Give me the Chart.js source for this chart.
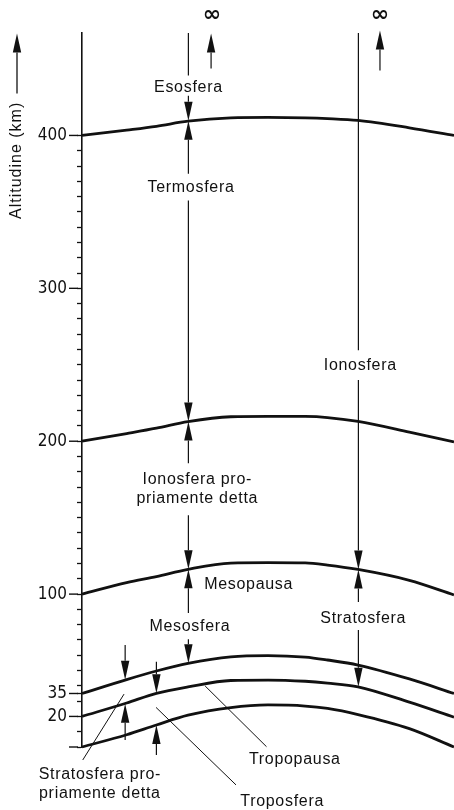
<!DOCTYPE html>
<html lang="it">
<head>
<meta charset="UTF-8">
<title>Strati dell'atmosfera</title>
<script src="https://cdn.jsdelivr.net/npm/chart.js"></script>
<style>
  html, body { margin: 0; padding: 0; background: #fff; }
  #wrap { width: 454px; height: 810px; }
</style>
</head>
<body>
<div id="wrap"><canvas id="atmo" width="454" height="810"></canvas></div>
<script>
// horizontal position across the diagram (0 = altitude axis, 100 = right edge)
const xPos = [0, 12, 20, 28.5, 40, 50, 60, 66, 74.2, 88, 100];

// layer boundaries: altitude (km) at each xPos
const alt400 = [400, 403.5, 406, 409.3, 411.5, 411.8, 411.5, 411, 409.8, 405, 400];
const alt200 = [200, 205, 208.5, 212.8, 216, 216.3, 216.2, 215.5, 213, 206, 199.5];
const alt100 = [100, 107.5, 111.5, 116.2, 120.3, 120.6, 120.4, 119, 116.1, 109, 99.5];
const alt35  = [35, 44.1, 49.7, 54.7, 59, 59.8, 58.8, 56.9, 53.6, 44.5, 35];
const alt20  = [20, 28.8, 35.1, 39.3, 43.5, 43.8, 43, 41.8, 39.4, 29.3, 19.5];
const alt0   = [0, 8, 14.4, 20.8, 25.8, 27.5, 26.8, 25.2, 21.2, 12, 0];
const boundaries = [alt400, alt200, alt100, alt35, alt20, alt0];

// y axis ticks
const tickValues = [0, 10, 20, 30, 35, 40, 50, 60, 70, 80, 90, 100, 110, 120, 130, 140, 150,
  160, 170, 180, 190, 200, 210, 220, 230, 240, 250, 260, 270, 280, 290, 300, 310, 320,
  330, 340, 350, 360, 370, 380, 390, 400];
const tickLabels = [20, 35, 100, 200, 300, 400];
const longTicks = [0, 20, 35, 100, 200, 300, 400];

// plain vertical lines [x, from km, to km]
const stems = [[28.6, 467, 439.2], [74.3, 467, 259.5]];
// arrows [x, from km, to km], head at the "to" end
const arrows = [
  [28.6, 426, 409.6], [28.6, 375, 409.6], [28.6, 357.5, 212.9], [28.6, 185.6, 212.9],
  [28.6, 151.6, 116.3], [28.6, 87.6, 116.3], [28.6, 70.5, 54.7],
  [74.3, 240, 116.1], [74.3, 94.8, 116.1], [74.3, 76.5, 39.4],
  [11.6, 66.7, 44], [11.6, 4.6, 28.3], [20, 55.8, 35.1], [20, -5.2, 14.4],
  [34.7, 443.8, 466.7], [80.1, 442.5, 468.6]
];
// leader lines [x1, km1, x2, km2]
const leaders = [[11.3, 34.6, 0.2, -8.5], [19.9, 25.9, 41.4, -24.8], [33.1, 39.9, 49.6, 0.2]];
// labels [text, x, km]
const labels = [
  ['Esosfera', 28.6, 431.4], ['Termosfera', 29.3, 366],
  ['Ionosfera pro-', 31, 175.2], ['priamente detta', 31, 162.7],
  ['Mesopausa', 44.8, 105.9], ['Mesosfera', 29, 78.6],
  ['Ionosfera', 74.8, 249.7], ['Stratosfera', 75.6, 84.3],
  ['Stratosfera pro-', 4.8, -18.3], ['priamente detta', 4.8, -30.7],
  ['Tropopausa', 57.2, -8.5], ['Troposfera', 53.8, -35.7]
];
const infinity = [[34.9, 478.4], [80.1, 478.4]];
const axisTitle = 'Altitudine (km)';

const INK = '#111';

function drawArrow(ctx, x, y1, y2) {
  const dir = y2 > y1 ? 1 : -1;
  const len = 19, half = 4.2;
  ctx.beginPath();
  ctx.moveTo(x, y1);
  ctx.lineTo(x, y2 - dir * len);
  ctx.stroke();
  ctx.beginPath();
  ctx.moveTo(x, y2);
  ctx.lineTo(x - half, y2 - dir * len);
  ctx.lineTo(x + half, y2 - dir * len);
  ctx.closePath();
  ctx.fill();
}

const decor = {
  id: 'decor',
  afterDraw(chart) {
    const ctx = chart.ctx;
    const sx = chart.scales.x, sy = chart.scales.y;
    const X = v => sx.getPixelForValue(v);
    const Y = v => sy.getPixelForValue(v);
    const left = chart.chartArea.left;
    ctx.save();
    ctx.strokeStyle = INK;
    ctx.fillStyle = INK;

    // longer ticks at labelled values
    ctx.lineWidth = 1.4;
    longTicks.forEach(v => {
      ctx.beginPath();
      ctx.moveTo(left - 13, Y(v));
      ctx.lineTo(left - 4, Y(v));
      ctx.stroke();
    });

    ctx.lineWidth = 1.2;
    stems.forEach(([x, a, b]) => {
      ctx.beginPath();
      ctx.moveTo(X(x), Y(a));
      ctx.lineTo(X(x), Y(b));
      ctx.stroke();
    });
    arrows.forEach(([x, a, b]) => drawArrow(ctx, X(x), Y(a), Y(b)));

    ctx.lineWidth = 1;
    leaders.forEach(([x1, a, x2, b]) => {
      ctx.beginPath();
      ctx.moveTo(X(x1), Y(a));
      ctx.lineTo(X(x2), Y(b));
      ctx.stroke();
    });

    ctx.textAlign = 'center';
    ctx.textBaseline = 'middle';
    ctx.font = '16px "Liberation Sans", Arial, sans-serif';
    ctx.letterSpacing = '0.7px';
    labels.forEach(([t, x, a]) => ctx.fillText(t, X(x), Y(a)));

    ctx.letterSpacing = '0px';
    ctx.font = 'bold 22px "DejaVu Sans", sans-serif';
    infinity.forEach(([x, a]) => ctx.fillText('\u221E', X(x), Y(a)));

    // axis title with upward arrow
    ctx.save();
    ctx.translate(17, Y(383.7));
    ctx.rotate(-Math.PI / 2);
    ctx.font = '16px "Liberation Sans", Arial, sans-serif';
    ctx.letterSpacing = '1px';
    ctx.fillText(axisTitle, 0, 0);
    ctx.restore();
    ctx.lineWidth = 1.3;
    drawArrow(ctx, 17, Y(427.5), Y(466.7));

    ctx.restore();
  }
};

new Chart(document.getElementById('atmo'), {
  type: 'line',
  data: {
    datasets: boundaries.map(b => ({
      data: xPos.map((x, i) => ({ x: x, y: b[i] })),
      borderColor: INK,
      borderWidth: 2.8,
      pointRadius: 0,
      cubicInterpolationMode: 'monotone',
      clip: false
    }))
  },
  options: {
    responsive: false,
    animation: false,
    events: [],
    layout: { padding: { top: 33, bottom: 63, left: 0, right: 0 } },
    plugins: { legend: { display: false }, tooltip: { enabled: false } },
    scales: {
      x: { type: 'linear', min: 0, max: 100, display: false },
      y: {
        type: 'linear',
        min: 0,
        max: 467,
        afterFit: s => { s.width = 82; },
        afterBuildTicks: s => { s.ticks = tickValues.map(v => ({ value: v })); },
        border: { display: true, color: INK, width: 1.6 },
        grid: { drawOnChartArea: false, tickLength: 5, tickColor: INK, tickWidth: 1.3 },
        ticks: {
          autoSkip: false,
          padding: 10,
          color: INK,
          font: { family: '"DejaVu Sans Condensed", "Liberation Sans Narrow", sans-serif', size: 17 },
          callback: v => tickLabels.includes(v) ? String(v) : ''
        }
      }
    }
  },
  plugins: [decor]
});
</script>
</body>
</html>
